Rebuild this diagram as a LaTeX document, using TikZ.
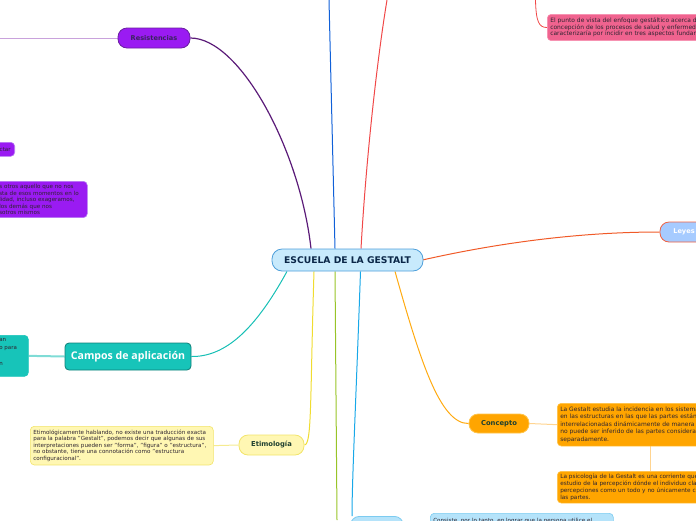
\documentclass[tikz,border=0pt]{standalone}
\usepackage{fontspec}
\setmainfont{DejaVu Sans}
\newfontfamily\opensans{Open Sans}
\definecolor{cfill}{HTML}{C8EAFC}
\definecolor{cborder}{HTML}{4E9FDA}
\definecolor{ctext}{HTML}{0B2748}
\definecolor{purp}{HTML}{9A1BF2}
\definecolor{purpd}{HTML}{6A1FA0}
\definecolor{purpt}{HTML}{3A2460}
\definecolor{purpl}{HTML}{B77CF2}
\definecolor{teal}{HTML}{17C4B9}
\definecolor{teald}{HTML}{0E7F78}
\definecolor{yel}{HTML}{FFF7B3}
\definecolor{yeld}{HTML}{F2E46A}
\definecolor{grtext}{HTML}{1F4030}
\definecolor{orng}{HTML}{FFA500}
\definecolor{orngl}{HTML}{FFC44A}
\definecolor{leyfill}{HTML}{A6CBFF}
\definecolor{leyb}{HTML}{F06040}
\definecolor{pink}{HTML}{F0638F}
\definecolor{pinkl}{HTML}{F890B0}
\definecolor{sky}{HTML}{B5E3FA}
\definecolor{skyd}{HTML}{7CCBF0}
\definecolor{txt}{HTML}{2E2430}
\definecolor{cres}{HTML}{5A1A78}
\definecolor{cblue}{HTML}{1060D8}
\definecolor{cred}{HTML}{F04848}
\definecolor{cley}{HTML}{F05A28}
\definecolor{cteal}{HTML}{17BFB5}
\definecolor{cyel}{HTML}{F0DC30}
\definecolor{cgreen}{HTML}{98C428}
\definecolor{csky}{HTML}{18A8E8}
\definecolor{corng}{HTML}{FFAA10}
\definecolor{lres}{HTML}{C9A2DC}
\definecolor{lteal}{HTML}{7FDCD6}
\definecolor{lyel}{HTML}{F5EB90}
\definecolor{lorng}{HTML}{FFD490}
\pgfdeclarelayer{bg}
\pgfsetlayers{bg,main}
\begin{document}
\begin{tikzpicture}[x=1pt,y=-1pt,
  topic/.style={draw, line width=0.8pt, rounded corners=9pt, inner sep=0pt,
    font=\fontsize{6.6}{7}\selectfont\bfseries},
  tbox/.style={draw, line width=0.6pt, rounded corners=4pt, anchor=north west,
    align=left, inner xsep=3pt, inner ysep=3pt,
    font=\fontsize{5.6}{6.5}\selectfont, text=txt},
  conn/.style={line width=1pt},
  link/.style={line width=1pt}]
\useasboundingbox (0,0) rectangle (696,520);
\clip (0,0) rectangle (696,520);

% central
\node[topic, fill=cfill, draw=cborder, text=ctext, minimum width=151pt,
  minimum height=22pt, rounded corners=10pt,
  font=\fontsize{9.2}{10}\selectfont\bfseries] (c) at (347.5,260) {ESCUELA DE LA GESTALT};

% topics
\node[topic, fill=purp, draw=purpd, text=purpt, minimum width=72pt,
  minimum height=20pt] (res) at (154,38) {Resistencias};
\node[topic, fill=teal, draw=teald, text=white, minimum width=126pt,
  minimum height=27pt, rounded corners=4pt,
  font=\opensans\fontsize{10.6}{11}\selectfont\bfseries] (camp) at (128,356.5) {Campos de aplicación};
\node[topic, fill=yel, draw=yeld, text=grtext, minimum width=65pt,
  minimum height=20pt, font=\fontsize{6.8}{7}\selectfont\bfseries] (ety) at (271.5,445) {Etimología};
\node[topic, fill=orng, draw=orngl, text=grtext, minimum width=60pt,
  minimum height=19pt, font=\fontsize{6.8}{7}\selectfont\bfseries] (con) at (499,423.5) {Concepto};
\node[topic, fill=leyfill, draw=leyb, text=white, minimum width=48pt,
  minimum height=20pt] (ley) at (684,232) {Leyes};
\node[topic, fill=sky, draw=skyd, minimum width=53pt, minimum height=20pt,
  anchor=north west] (bn) at (350,516) {};

% text boxes
\node[tbox, fill=pink, draw=pinkl, text width=220pt, inner ysep=3.5pt,
  font=\fontsize{5.95}{6.7}\selectfont] (pk) at (547,14)
  {El punto de vista del enfoque gestáltico acerca de la\\
   concepción de los procesos de salud y enfermedad se\\
   caracterizaría por incidir en tres aspectos fundamentales};
\node[tbox, fill=purp, draw=purpl, anchor=north east, text width=30pt,
  minimum height=14pt, align=right, inner xsep=4pt, inner ysep=1pt] (ct) at (15,142) {ctar};
\node[tbox, fill=purp, draw=purpl, text width=85pt, inner ysep=3pt,
  font=\fontsize{5.6}{6.5}\selectfont] (pb) at (-4,181)
  {s otros aquello que no nos\\
   sta de esos momentos en lo\\
   lidad, incluso exageramos,\\
   los demás que nos\\
   sotros mismos};
\node[tbox, fill=teal, draw=teal, text width=26pt, inner ysep=3pt,
  font=\fontsize{5.5}{8}\selectfont] (tb) at (-4,335)
  {an\\ o para\\ \mbox{}\\ n\\ \mbox{}};
\node[tbox, fill=yel, draw=yeld, text width=177pt, inner ysep=3.5pt] (eb) at (30,426)
  {Etimológicamente hablando, no existe una traducción exacta\\
   para la palabra "Gestalt", podemos decir que algunas de sus\\
   interpretaciones pueden ser "forma", "figura" o "estructura",\\
   no obstante, tiene una connotación como "estructura\\
   configuracional".};
\node[tbox, fill=orng, draw=orngl, text width=220pt, inner ysep=3.5pt,
  font=\fontsize{5.95}{7.5}\selectfont] (k1) at (557,403)
  {La Gestalt estudia la incidencia en los sistemas,\\
   en las estructuras en las que las partes están\\
   interrelacionadas dinámicamente de manera que el todo\\
   no puede ser inferido de las partes consideradas\\
   separadamente.};
\node[tbox, fill=orng, draw=orngl, text width=220pt, inner ysep=2.5pt,
  font=\fontsize{5.75}{7}\selectfont] (k2) at (557,471)
  {La psicología de la Gestalt es una corriente que se centra en el\\
   estudio de la percepción dónde el individuo clasifica sus\\
   percepciones como un todo y no únicamente con\\
   las partes.};
\node[tbox, fill=sky, draw=skyd, text width=177pt, inner ysep=5pt] (bb) at (430,513)
  {Consiste, por lo tanto, en lograr que la persona utilice el\\ };

% free ends
\coordinate (resL) at (0,38);
\coordinate (topB) at (329,0);
\coordinate (topR) at (387,0);
\coordinate (pkT) at (535.5,0);
\coordinate (botG) at (337,520);
\coordinate (kx) at (650,0);

\begin{pgfonlayer}{bg}
  \draw[link, lres] (res.west) -- (resL);
  \draw[link, lteal, line width=2pt] (camp.west) -- (tb.east);
  \draw[link, lyel] (ety.west) -- (eb.east);
  \draw[link, lorng] (con.east) -- (k1.west);
  \draw[link, lorng] (k1.south -| kx) -- (k2.north -| kx);
  \draw[conn, cred, line width=0.8pt] (pkT) .. controls (536,22) and (539,27.5) .. (pk.west);

  \draw[conn, cres, line width=1.2pt] ([xshift=-36.5pt]c.north) .. controls (300,150) and (240,38) .. (res.east);
  \draw[conn, cblue] ([xshift=-12.5pt]c.north) -- (topB);
  \draw[conn, cred] ([xshift=13.5pt]c.north) .. controls (366,160) and (377,60) .. (topR);
  \draw[conn, cley] ([xshift=-1pt]c.east) .. controls (520,238) and (600,232) .. (ley.west);
  \draw[conn, cteal] ([xshift=-60.5pt]c.south) .. controls (255,330) and (225,357) .. (camp.east);
  \draw[conn, cyel] ([xshift=-33.5pt]c.south) .. controls (310,400) and (312,445) .. (ety.east);
  \draw[conn, cgreen] ([xshift=-12.5pt]c.south) -- (botG);
  \draw[conn, csky] ([xshift=13pt]c.south) .. controls (356,400) and (352,480) .. ([xshift=2pt]bn.north west);
  \draw[conn, corng] ([xshift=47.5pt]c.south) .. controls (420,360) and (440,424) .. (con.west);
\end{pgfonlayer}
\end{tikzpicture}
\end{document}
